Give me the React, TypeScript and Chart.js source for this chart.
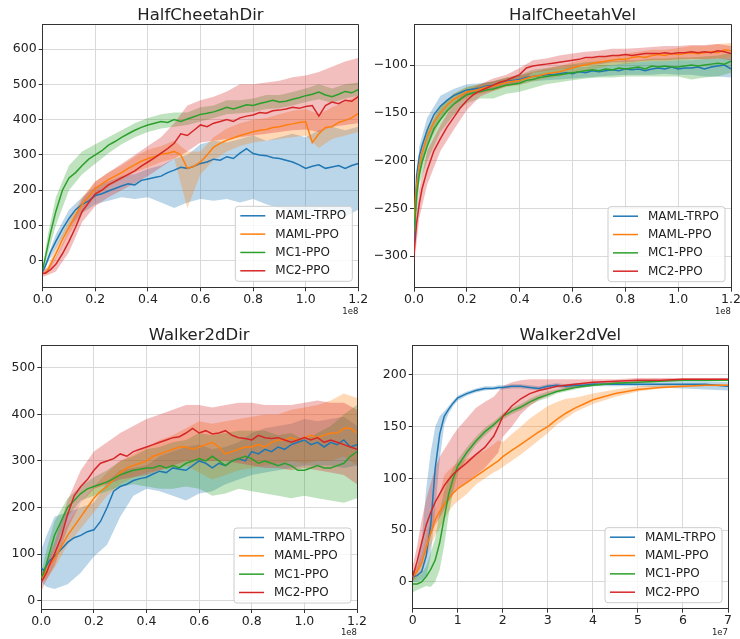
import React, { useEffect, useRef } from "react";
import { Chart, registerables } from "chart.js";

Chart.register(...registerables);

const FONT = "'DejaVu Sans', sans-serif";
const TEXT_COLOR = "#222222";
const AXIS_COLOR = "#333333";
const GRID_COLOR = "#d9d9d9";

const SERIES_NAMES = ["MAML-TRPO", "MAML-PPO", "MC1-PPO", "MC2-PPO"];
const LINE_COLORS = ["#1f77b4", "#ff7f0e", "#2ca02c", "#d62728"];
const BAND_COLORS = [
  "rgba(31,119,180,0.3)",
  "rgba(255,127,14,0.3)",
  "rgba(44,160,44,0.3)",
  "rgba(214,39,40,0.3)",
];

// ---------- x positions ----------
const STEPS_1E8 = [
  0, 0.01, 0.02, 0.03, 0.05, 0.075, 0.1, 0.125, 0.15, 0.175,
  0.2, 0.225, 0.25, 0.275, 0.3, 0.325, 0.35, 0.375, 0.4, 0.425,
  0.45, 0.475, 0.5, 0.525, 0.55, 0.575, 0.6, 0.625, 0.65, 0.675,
  0.7, 0.725, 0.75, 0.775, 0.8, 0.825, 0.85, 0.875, 0.9, 0.925,
  0.95, 0.975, 1.0, 1.025, 1.05, 1.075, 1.1, 1.125, 1.15, 1.175,
  1.2,
];
const BAND_STEPS_1E8 = [
  0, 0.02, 0.05, 0.1, 0.15, 0.2, 0.25, 0.3, 0.35, 0.4,
  0.45, 0.5, 0.55, 0.6, 0.65, 0.7, 0.75, 0.8, 0.85, 0.9,
  0.95, 1.0, 1.05, 1.1, 1.15, 1.2,
];
const STEPS_1E7 = [
  0, 0.1, 0.2, 0.3, 0.4, 0.5, 0.6, 0.7, 0.8, 0.9,
  1.0, 1.2, 1.4, 1.6, 1.8, 1.9, 2.0, 2.2, 2.4, 2.6,
  2.8, 3.0, 3.2, 3.4, 3.6, 3.8, 4.0, 4.5, 5.0, 5.5,
  6.0, 6.5, 7.0,
];

// ---------- HalfCheetahDir ----------
const HCD_TRPO = [-30, -15, 5, 25, 55, 90, 120, 145, 160, 170, 185, 190, 198, 205, 212, 218, 215, 228, 232, 236, 240, 250, 257, 265, 262, 268, 276, 280, 288, 285, 295, 290, 305, 318, 304, 300, 298, 292, 290, 285, 280, 272, 262, 268, 272, 262, 266, 270, 262, 270, 276];
const HCD_MPPO = [-35, -35, -25, -10, 20, 60, 95, 130, 160, 182, 205, 218, 230, 240, 250, 262, 272, 282, 290, 295, 302, 305, 310, 300, 262, 268, 280, 300, 322, 333, 342, 348, 355, 360, 366, 370, 372, 378, 380, 385, 388, 392, 394, 335, 360, 378, 380, 392, 398, 405, 418];
const HCD_MC1 = [-25, 10, 45, 80, 140, 200, 235, 250, 270, 288, 300, 312, 328, 338, 350, 360, 370, 378, 385, 390, 395, 392, 400, 395, 402, 408, 415, 418, 422, 428, 435, 430, 436, 442, 440, 446, 450, 455, 450, 452, 458, 462, 468, 472, 478, 470, 465, 472, 480, 476, 485];
const HCD_MC2 = [-35, -35, -30, -25, -10, 20, 55, 95, 140, 165, 190, 200, 215, 225, 235, 245, 255, 268, 280, 292, 305, 318, 333, 360, 355, 370, 385, 380, 390, 395, 400, 395, 405, 410, 413, 420, 418, 425, 427, 430, 435, 432, 437, 440, 410, 440, 450, 445, 455, 452, 465];

const HCD_TRPO_LO = [-35, -5, 35, 95, 135, 160, 170, 180, 175, 180, 165, 150, 165, 175, 170, 175, 165, 175, 160, 150, 140, 130, 150, 140, 125, 145];
const HCD_TRPO_HI = [-25, 15, 75, 145, 180, 210, 225, 240, 245, 260, 270, 290, 300, 330, 340, 335, 345, 355, 340, 350, 360, 350, 370, 380, 370, 380];
const HCD_MPPO_LO = [-40, -35, 5, 75, 135, 180, 210, 230, 250, 265, 280, 290, 150, 245, 285, 310, 325, 335, 340, 345, 350, 355, 320, 345, 355, 365];
const HCD_MPPO_HI = [-30, -15, 40, 115, 180, 225, 250, 270, 295, 315, 325, 340, 310, 310, 350, 375, 390, 400, 405, 415, 425, 430, 415, 435, 450, 470];
const HCD_MC1_LO = [-30, 20, 100, 200, 245, 275, 305, 330, 350, 365, 375, 380, 385, 395, 405, 415, 418, 422, 430, 432, 440, 450, 458, 448, 460, 468];
const HCD_MC1_HI = [-20, 75, 180, 270, 310, 330, 350, 370, 390, 405, 415, 420, 420, 435, 440, 455, 455, 460, 470, 470, 478, 488, 500, 488, 500, 505];
const HCD_MC2_LO = [-45, -40, -30, 25, 110, 155, 180, 200, 220, 240, 265, 290, 310, 335, 340, 345, 350, 355, 360, 365, 370, 372, 365, 380, 385, 390];
const HCD_MC2_HI = [-25, -20, 10, 90, 175, 225, 250, 275, 300, 325, 350, 390, 440, 455, 465, 480, 500, 500, 505, 510, 520, 525, 535, 550, 565, 575];

// ---------- HalfCheetahVel ----------
const HCV_TRPO = [-290, -215, -195, -185, -168, -152, -143, -137, -132, -129, -126, -125, -124, -122, -121, -119, -117, -116, -115, -113, -112, -111, -110, -110, -109, -108, -109, -107, -108, -106, -107, -106, -105, -106, -104, -105, -104, -106, -104, -103, -104, -102, -104, -103, -103, -102, -104, -102, -101, -100, -104];
const HCV_MPPO = [-265, -225, -205, -192, -175, -160, -150, -142, -136, -132, -128, -127, -125, -123, -122, -120, -118, -117, -116, -114, -112, -111, -109, -108, -107, -105, -103, -101, -100, -98, -97, -96, -95, -94, -94, -92, -91, -92, -90, -89, -90, -88, -89, -88, -87, -88, -87, -86, -87, -84, -85];
const HCV_MC1 = [-275, -235, -215, -202, -185, -167, -157, -148, -141, -136, -131, -129, -128, -126, -125, -123, -121, -120, -119, -116, -115, -113, -112, -111, -110, -109, -108, -107, -106, -105, -106, -104, -105, -103, -104, -103, -102, -104, -101, -102, -101, -102, -102, -101, -100, -101, -100, -99, -98, -99, -96];
const HCV_MC2 = [-298, -265, -245, -230, -210, -190, -177, -165, -155, -145, -137, -131, -127, -124, -121, -118, -116, -113, -110, -103, -101, -100, -99, -98, -97, -96, -95, -94, -92, -92, -91, -91, -90, -90, -89, -90, -89, -88, -88, -88, -87, -88, -87, -87, -86, -87, -86, -87, -85, -86, -88];

const HCV_TRPO_LO = [-300, -215, -185, -155, -140, -132, -128, -125, -122, -120, -117, -116, -115, -114, -113, -112, -111, -110, -110, -110, -109, -110, -110, -112, -112, -113];
const HCV_TRPO_HI = [-280, -185, -155, -132, -125, -120, -119, -117, -114, -111, -108, -105, -104, -102, -102, -100, -100, -98, -97, -96, -96, -95, -95, -94, -93, -93];
const HCV_MPPO_LO = [-280, -215, -185, -158, -142, -134, -130, -127, -123, -121, -117, -114, -112, -108, -106, -103, -100, -99, -97, -96, -96, -95, -94, -94, -93, -92];
const HCV_MPPO_HI = [-240, -195, -165, -142, -130, -123, -120, -117, -113, -111, -107, -104, -101, -97, -94, -92, -90, -88, -86, -84, -84, -82, -80, -80, -78, -77];
const HCV_MC1_LO = [-290, -225, -200, -170, -152, -140, -135, -135, -130, -128, -124, -120, -118, -116, -114, -113, -113, -112, -112, -112, -112, -112, -115, -113, -112, -108];
const HCV_MC1_HI = [-260, -200, -170, -143, -130, -123, -120, -117, -113, -110, -105, -103, -101, -99, -97, -96, -96, -95, -95, -93, -93, -92, -92, -91, -90, -87];
const HCV_MC2_LO = [-310, -260, -225, -190, -168, -147, -133, -127, -122, -118, -108, -106, -104, -103, -100, -99, -97, -97, -96, -95, -95, -94, -94, -94, -93, -95];
const HCV_MC2_HI = [-285, -230, -190, -163, -140, -127, -120, -114, -110, -103, -95, -93, -90, -88, -86, -85, -83, -83, -82, -81, -80, -80, -79, -79, -78, -80];

// ---------- Walker2dDir ----------
const WD_TRPO = [70, 65, 75, 85, 95, 110, 125, 135, 140, 148, 152, 170, 200, 235, 245, 250, 258, 262, 265, 272, 278, 275, 285, 282, 280, 290, 300, 295, 285, 295, 290, 300, 305, 300, 320, 315, 325, 320, 330, 325, 335, 340, 345, 335, 340, 330, 340, 335, 345, 330, 335];
const WD_MPPO = [50, 55, 65, 75, 90, 115, 140, 160, 180, 200, 220, 235, 245, 260, 275, 285, 290, 295, 300, 310, 315, 320, 325, 330, 330, 325, 330, 335, 340, 330, 315, 320, 325, 330, 330, 335, 330, 340, 345, 345, 350, 345, 350, 355, 350, 355, 360, 360, 370, 370, 360];
const WD_MC1 = [50, 60, 80, 100, 140, 170, 200, 215, 230, 240, 245, 250, 255, 262, 270, 275, 280, 282, 285, 285, 290, 285, 290, 285, 295, 300, 305, 300, 310, 300, 290, 300, 305, 310, 305, 295, 300, 295, 290, 295, 290, 280, 280, 285, 290, 285, 285, 290, 295, 310, 320];
const WD_MC2 = [40, 50, 60, 75, 100, 135, 185, 225, 245, 260, 280, 295, 300, 305, 315, 310, 320, 325, 330, 335, 340, 345, 350, 352, 360, 370, 360, 365, 358, 360, 365, 355, 350, 348, 345, 355, 350, 348, 350, 345, 340, 345, 350, 345, 350, 340, 345, 340, 335, 330, 325];

const WD_TRPO_LO = [40, 30, 25, 35, 60, 95, 120, 180, 225, 240, 235, 225, 215, 230, 235, 250, 260, 270, 275, 280, 285, 290, 290, 290, 285, 290];
const WD_TRPO_HI = [110, 140, 180, 190, 200, 210, 255, 280, 285, 290, 310, 320, 330, 335, 325, 330, 340, 360, 370, 375, 380, 390, 385, 390, 395, 375];
const WD_MPPO_LO = [40, 45, 70, 120, 155, 190, 225, 250, 265, 275, 280, 285, 290, 275, 260, 270, 280, 285, 290, 295, 300, 295, 300, 300, 310, 290];
const WD_MPPO_HI = [60, 75, 110, 165, 210, 245, 275, 300, 315, 330, 345, 355, 370, 385, 380, 385, 390, 395, 400, 400, 410, 415, 420, 430, 445, 435];
const WD_MC1_LO = [40, 70, 110, 180, 215, 225, 235, 245, 250, 245, 240, 240, 245, 240, 225, 230, 240, 235, 230, 225, 220, 225, 220, 215, 210, 220];
const WD_MC1_HI = [60, 110, 170, 220, 245, 265, 280, 300, 310, 325, 330, 340, 345, 360, 355, 360, 365, 365, 365, 355, 360, 345, 360, 375, 400, 420];
const WD_MC2_LO = [20, 45, 75, 155, 210, 240, 250, 260, 265, 270, 280, 290, 300, 300, 300, 300, 295, 290, 285, 285, 280, 285, 280, 275, 270, 250];
const WD_MC2_HI = [60, 80, 125, 215, 280, 320, 340, 360, 375, 390, 400, 410, 420, 420, 415, 420, 425, 425, 420, 420, 420, 425, 430, 425, 425, 410];

// ---------- Walker2dVel ----------
const WV_TRPO = [5, 6, 10, 25, 55, 110, 143, 160, 167, 173, 178, 182, 185, 187, 187, 188, 188, 189, 189, 188, 187, 189, 190, 189, 190, 190, 191, 191, 191, 191, 191, 191, 189];
const WV_MPPO = [5, 10, 18, 33, 47, 60, 68, 75, 80, 86, 90, 96, 102, 108, 114, 117, 121, 127, 133, 139, 145, 150, 157, 163, 168, 172, 176, 182, 186, 188, 189, 190, 190];
const WV_MC1 = [-2, -2, 0, 5, 12, 21, 38, 62, 85, 100, 112, 125, 136, 145, 152, 156, 160, 165, 169, 174, 178, 181, 184, 186, 188, 189, 190, 192, 193, 194, 195, 195, 195];
const WV_MC2 = [5, 20, 38, 55, 67, 77, 85, 93, 99, 104, 108, 115, 123, 130, 141, 150, 160, 170, 177, 182, 185, 187, 189, 190, 191, 192, 193, 194, 195, 195, 196, 196, 196];

const WV_TRPO_LO = [0, 0, 2, 5, 25, 70, 118, 152, 163, 170, 175, 180, 183, 185, 186, 186, 186, 187, 187, 186, 185, 187, 188, 187, 188, 188, 189, 189, 189, 188, 187, 186, 185];
const WV_TRPO_HI = [10, 15, 40, 90, 125, 150, 160, 165, 170, 175, 180, 184, 187, 189, 189, 190, 190, 191, 191, 190, 189, 191, 192, 191, 192, 192, 193, 193, 193, 193, 194, 194, 193];
const WV_MPPO_LO = [0, 4, 10, 22, 35, 45, 52, 60, 68, 74, 78, 85, 94, 100, 106, 108, 111, 117, 123, 130, 137, 144, 152, 158, 164, 168, 172, 179, 184, 187, 188, 189, 189];
const WV_MPPO_HI = [10, 16, 26, 44, 60, 72, 85, 103, 108, 112, 115, 119, 123, 127, 133, 137, 135, 143, 150, 158, 164, 170, 174, 177, 178, 180, 182, 186, 189, 190, 191, 191, 191];
const WV_MC1_LO = [-10, -8, -6, -4, -5, 0, 12, 35, 65, 88, 105, 120, 132, 141, 149, 153, 157, 162, 166, 171, 175, 178, 182, 184, 186, 188, 189, 191, 192, 193, 194, 194, 194];
const WV_MC1_HI = [5, 5, 8, 15, 28, 42, 68, 88, 100, 110, 118, 130, 140, 149, 155, 159, 163, 168, 172, 177, 181, 184, 186, 188, 190, 191, 192, 193, 194, 195, 196, 196, 196];
const WV_MC2_LO = [0, 8, 20, 30, 45, 55, 62, 70, 78, 85, 90, 96, 103, 110, 120, 125, 140, 150, 162, 170, 176, 180, 184, 186, 188, 189, 190, 192, 193, 194, 195, 195, 195];
const WV_MC2_HI = [15, 35, 60, 80, 95, 110, 121, 128, 135, 142, 148, 158, 168, 174, 179, 184, 189, 193, 195, 196, 196, 196, 196, 196, 196, 196, 196, 196, 197, 197, 197, 197, 197];

// ---------- ticks ----------
const X_TICKS_1E8 = [0, 0.2, 0.4, 0.6, 0.8, 1.0, 1.2];
const X_TICKS_1E7 = [0, 1, 2, 3, 4, 5, 6, 7];
const Y_TICKS_HCD = [0, 100, 200, 300, 400, 500, 600];
const Y_TICKS_HCV = [-300, -250, -200, -150, -100];
const Y_TICKS_WD = [0, 100, 200, 300, 400, 500];
const Y_TICKS_WV = [0, 50, 100, 150, 200];

type Series = { mean: number[]; lo: number[]; hi: number[] };
type PanelCfg = {
  title: string;
  xMean: number[];
  xBand: number[];
  series: Series[];
  xMax: number;
  xTicks: number[];
  xDecimals: number;
  offsetLabel: string;
  yMin: number;
  yMax: number;
  yTicks: number[];
  left: number;
  top: number;
  w: number;
  h: number;
  areaLeft: number;
  areaRight: number;
  areaTop: number;
  areaBottom: number;
};

const PANELS: PanelCfg[] = [
  {
    title: "HalfCheetahDir",
    xMean: STEPS_1E8,
    xBand: BAND_STEPS_1E8,
    series: [
      { mean: HCD_TRPO, lo: HCD_TRPO_LO, hi: HCD_TRPO_HI },
      { mean: HCD_MPPO, lo: HCD_MPPO_LO, hi: HCD_MPPO_HI },
      { mean: HCD_MC1, lo: HCD_MC1_LO, hi: HCD_MC1_HI },
      { mean: HCD_MC2, lo: HCD_MC2_LO, hi: HCD_MC2_HI },
    ],
    xMax: 1.2,
    xTicks: X_TICKS_1E8,
    xDecimals: 1,
    offsetLabel: "1e8",
    yMin: -75,
    yMax: 671,
    yTicks: Y_TICKS_HCD,
    left: 0,
    top: 0,
    w: 370,
    h: 320,
    areaLeft: 42.7,
    areaRight: 358.3,
    areaTop: 24,
    areaBottom: 287.3,
  },
  {
    title: "HalfCheetahVel",
    xMean: STEPS_1E8,
    xBand: BAND_STEPS_1E8,
    series: [
      { mean: HCV_TRPO, lo: HCV_TRPO_LO, hi: HCV_TRPO_HI },
      { mean: HCV_MPPO, lo: HCV_MPPO_LO, hi: HCV_MPPO_HI },
      { mean: HCV_MC1, lo: HCV_MC1_LO, hi: HCV_MC1_HI },
      { mean: HCV_MC2, lo: HCV_MC2_LO, hi: HCV_MC2_HI },
    ],
    xMax: 1.2,
    xTicks: X_TICKS_1E8,
    xDecimals: 1,
    offsetLabel: "1e8",
    yMin: -333,
    yMax: -57,
    yTicks: Y_TICKS_HCV,
    left: 370,
    top: 0,
    w: 370,
    h: 320,
    areaLeft: 44,
    areaRight: 361,
    areaTop: 24,
    areaBottom: 287.7,
  },
  {
    title: "Walker2dDir",
    xMean: STEPS_1E8,
    xBand: BAND_STEPS_1E8,
    series: [
      { mean: WD_TRPO, lo: WD_TRPO_LO, hi: WD_TRPO_HI },
      { mean: WD_MPPO, lo: WD_MPPO_LO, hi: WD_MPPO_HI },
      { mean: WD_MC1, lo: WD_MC1_LO, hi: WD_MC1_HI },
      { mean: WD_MC2, lo: WD_MC2_LO, hi: WD_MC2_HI },
    ],
    xMax: 1.2,
    xTicks: X_TICKS_1E8,
    xDecimals: 1,
    offsetLabel: "1e8",
    yMin: -18,
    yMax: 549,
    yTicks: Y_TICKS_WD,
    left: 0,
    top: 320,
    w: 370,
    h: 319,
    areaLeft: 41.3,
    areaRight: 357,
    areaTop: 25,
    areaBottom: 289,
  },
  {
    title: "Walker2dVel",
    xMean: STEPS_1E7,
    xBand: STEPS_1E7,
    series: [
      { mean: WV_TRPO, lo: WV_TRPO_LO, hi: WV_TRPO_HI },
      { mean: WV_MPPO, lo: WV_MPPO_LO, hi: WV_MPPO_HI },
      { mean: WV_MC1, lo: WV_MC1_LO, hi: WV_MC1_HI },
      { mean: WV_MC2, lo: WV_MC2_LO, hi: WV_MC2_HI },
    ],
    xMax: 7,
    xTicks: X_TICKS_1E7,
    xDecimals: 0,
    offsetLabel: "1e7",
    yMin: -26,
    yMax: 229,
    yTicks: Y_TICKS_WV,
    left: 370,
    top: 320,
    w: 370,
    h: 319,
    areaLeft: 42.7,
    areaRight: 358,
    areaTop: 25,
    areaBottom: 288.7,
  },
];

function align(p: number) {
  return Math.round(p - 0.5) + 0.5;
}

function fmtNum(v: number, decimals: number) {
  return v.toFixed(decimals).replace("-", "\u2212");
}

function makeDeco(cfg: PanelCfg) {
  return {
    id: "deco",
    afterDraw(chart: any) {
      const ctx: CanvasRenderingContext2D = chart.ctx;
      const a = chart.chartArea;
      ctx.save();
      ctx.strokeStyle = AXIS_COLOR;
      ctx.lineWidth = 1;
      ctx.beginPath();
      ctx.moveTo(align(a.left), align(a.top));
      ctx.lineTo(align(a.right), align(a.top));
      ctx.lineTo(align(a.right), align(a.bottom));
      ctx.stroke();

      ctx.fillStyle = TEXT_COLOR;
      ctx.font = `16.5px ${FONT}`;
      ctx.textAlign = "center";
      ctx.textBaseline = "alphabetic";
      ctx.fillText(cfg.title, (a.left + a.right) / 2, 20);

      ctx.font = `8.5px ${FONT}`;
      ctx.textAlign = "right";
      ctx.textBaseline = "middle";
      ctx.fillText(cfg.offsetLabel, a.right, a.bottom + 24);

      const bw = 117;
      const bh = 75;
      const bx = a.right - 6 - bw;
      const by = a.bottom - 6 - bh;
      const r = 3;
      ctx.beginPath();
      ctx.moveTo(bx + r, by);
      ctx.lineTo(bx + bw - r, by);
      ctx.quadraticCurveTo(bx + bw, by, bx + bw, by + r);
      ctx.lineTo(bx + bw, by + bh - r);
      ctx.quadraticCurveTo(bx + bw, by + bh, bx + bw - r, by + bh);
      ctx.lineTo(bx + r, by + bh);
      ctx.quadraticCurveTo(bx, by + bh, bx, by + bh - r);
      ctx.lineTo(bx, by + r);
      ctx.quadraticCurveTo(bx, by, bx + r, by);
      ctx.closePath();
      ctx.fillStyle = "rgba(255,255,255,0.8)";
      ctx.fill();
      ctx.strokeStyle = "#cccccc";
      ctx.lineWidth = 1;
      ctx.stroke();

      ctx.font = `12px ${FONT}`;
      ctx.textAlign = "left";
      ctx.textBaseline = "middle";
      SERIES_NAMES.forEach((name, i) => {
        const cy = by + 9.5 + i * 18.33;
        ctx.strokeStyle = LINE_COLORS[i];
        ctx.lineWidth = 1.5;
        ctx.beginPath();
        ctx.moveTo(bx + 5, cy);
        ctx.lineTo(bx + 30, cy);
        ctx.stroke();
        ctx.fillStyle = TEXT_COLOR;
        ctx.fillText(name, bx + 40, cy + 0.5);
      });
      ctx.restore();
    },
  };
}

function Panel({ cfg }: { cfg: PanelCfg }) {
  const ref = useRef<HTMLCanvasElement | null>(null);

  useEffect(() => {
    const canvas = ref.current;
    if (!canvas) return;
    const datasets: any[] = [];
    cfg.series.forEach((s, i) => {
      datasets.push({
        label: SERIES_NAMES[i] + " upper",
        data: cfg.xBand.map((x, j) => ({ x, y: s.hi[j] })),
        borderWidth: 0,
        borderColor: "rgba(0,0,0,0)",
        backgroundColor: BAND_COLORS[i],
        pointRadius: 0,
        fill: "+1",
        order: 20 - i,
      });
      datasets.push({
        label: SERIES_NAMES[i] + " lower",
        data: cfg.xBand.map((x, j) => ({ x, y: s.lo[j] })),
        borderWidth: 0,
        borderColor: "rgba(0,0,0,0)",
        pointRadius: 0,
        fill: false,
        order: 20 - i,
      });
    });
    cfg.series.forEach((s, i) => {
      datasets.push({
        label: SERIES_NAMES[i],
        data: cfg.xMean.map((x, j) => ({ x, y: s.mean[j] })),
        borderColor: LINE_COLORS[i],
        borderWidth: 1.5,
        pointRadius: 0,
        fill: false,
        order: 10 - i,
      });
    });

    const tickFont = { family: FONT, size: 12.5 };
    const chart = new Chart(canvas, {
      type: "line",
      data: { datasets },
      options: {
        animation: false,
        responsive: false,
        devicePixelRatio: 1,
        events: [],
        layout: {
          padding: { left: 0, right: cfg.w - cfg.areaRight, top: cfg.areaTop, bottom: 0 },
        },
        plugins: {
          legend: { display: false },
          tooltip: { enabled: false },
          title: { display: false },
        },
        scales: {
          x: {
            type: "linear",
            min: 0,
            max: cfg.xMax,
            afterBuildTicks: (s: any) => {
              s.ticks = cfg.xTicks.map((v) => ({ value: v }));
            },
            afterFit: (s: any) => {
              s.height = cfg.h - cfg.areaBottom;
              s.paddingLeft = 0;
              s.paddingRight = 0;
            },
            ticks: {
              autoSkip: false,
              maxRotation: 0,
              minRotation: 0,
              padding: 1,
              color: TEXT_COLOR,
              font: tickFont,
              callback: (v: any) => fmtNum(Number(v), cfg.xDecimals),
            },
            grid: {
              color: GRID_COLOR,
              lineWidth: 1,
              drawTicks: true,
              tickLength: 4,
              tickColor: AXIS_COLOR,
            },
            border: { display: true, color: AXIS_COLOR, width: 1 },
          },
          y: {
            type: "linear",
            min: cfg.yMin,
            max: cfg.yMax,
            afterBuildTicks: (s: any) => {
              s.ticks = cfg.yTicks.map((v) => ({ value: v }));
            },
            afterFit: (s: any) => {
              s.width = cfg.areaLeft;
              s.paddingTop = 0;
              s.paddingBottom = 0;
            },
            ticks: {
              autoSkip: false,
              padding: 2,
              color: TEXT_COLOR,
              font: tickFont,
              callback: (v: any) => fmtNum(Number(v), 0),
            },
            grid: {
              color: GRID_COLOR,
              lineWidth: 1,
              drawTicks: true,
              tickLength: 4,
              tickColor: AXIS_COLOR,
            },
            border: { display: true, color: AXIS_COLOR, width: 1 },
          },
        },
      } as any,
      plugins: [makeDeco(cfg)],
    });
    return () => chart.destroy();
  }, [cfg]);

  return (
    <canvas
      ref={ref}
      width={cfg.w}
      height={cfg.h}
      style={{ position: "absolute", left: cfg.left, top: cfg.top, width: cfg.w, height: cfg.h }}
    />
  );
}

export default function App() {
  return (
    <div
      style={{
        position: "absolute",
        left: 0,
        top: 0,
        width: 740,
        height: 639,
        background: "#ffffff",
        overflow: "hidden",
      }}
    >
      {PANELS.map((p) => (
        <Panel key={p.title} cfg={p} />
      ))}
    </div>
  );
}
